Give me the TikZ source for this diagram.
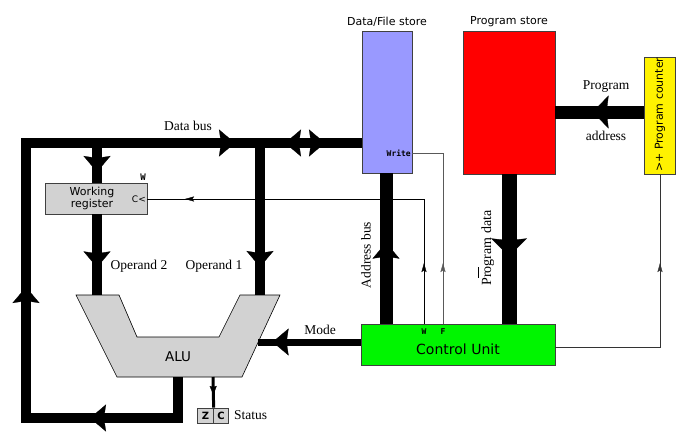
\documentclass[tikz,border=0pt]{standalone}
\usepackage{fontspec}
\setmainfont{Liberation Serif}
\setsansfont{DejaVu Sans}
\setmonofont{DejaVu Sans Mono}
\usetikzlibrary{arrows.meta,decorations.markings}
\definecolor{storeblue}{RGB}{153,153,255}
\definecolor{cugreen}{RGB}{0,245,0}
\definecolor{regfill}{RGB}{210,210,210}
\begin{document}
\begin{tikzpicture}[x=1pt,y=-1pt,
  box/.style={draw=black!75, line width=0.8pt, inner sep=0pt},
  bus/.style={line width=#1, draw=black},
  sig/.style={line width=0.7pt},
  lbl/.style={font=\fontsize{13.5}{15}\selectfont, inner sep=0pt},
  sflbl/.style={font=\sffamily\fontsize{11}{12.5}\selectfont, inner sep=0pt, align=center},
  mono/.style={font=\ttfamily\bfseries\fontsize{8}{9}\selectfont, inner sep=0pt},
  bt/.tip={Stealth[length=16pt 0, width=27pt 0, inset=2pt 0, line width=0.3pt 0]},
  pdt/.tip={Stealth[length=18pt 0, width=36pt 0, inset=2pt 0, line width=0.3pt 0]},
  pat/.tip={Stealth[length=16pt 0, width=33pt 0, inset=2pt 0, line width=0.3pt 0]},
  zt/.tip={Stealth[length=9pt 0, width=7pt 0, inset=1pt 0, line width=0.3pt 0]},
  st/.tip={Stealth[length=9pt 0, width=5pt 0, inset=1.5pt 0, line width=0.3pt 0]},
  tipat/.style n args={2}{postaction=decorate, decoration={markings, mark=at position #2 with {\arrow{#1}}}},
]
\useasboundingbox (0,0) rectangle (683,437);

% ---------- boxes ----------
\node[box, fill=storeblue, minimum width=50, minimum height=142] (ds) at (387,102) {};
\node[sflbl, anchor=south] (dsl) at (387,27) {Data/File store};
\node[box, fill=red, minimum width=92, minimum height=143] (ps) at (509,102.5) {};
\node[sflbl, anchor=south] (psl) at (509,27) {Program store};
\node[box, fill=yellow, minimum width=31, minimum height=117] (pc) at (659.5,115.5) {};
\node[sflbl, rotate=90, anchor=west] (pcl) at (660,172) {>+ Program counter};
\node[box, fill=cugreen, minimum width=194, minimum height=41] (cu) at (458,344.5) {};
\node[font=\sffamily\fontsize{14}{16}\selectfont, inner sep=0pt] (cul) at (458,349) {Control Unit};
\node[box, fill=regfill, minimum width=102, minimum height=31] (wr) at (96,198.5) {};
\node[sflbl] (wrl) at (92,198.5) {Working\\register};
\node[font=\sffamily\fontsize{9}{10}\selectfont, inner sep=0pt, anchor=east] (wrc) at (146,199) {C<};
\node[mono, font=\ttfamily\bfseries\fontsize{9}{10}\selectfont] (wrw) at (143,177) {W};
\node[mono, anchor=east] (dsw) at (411,153) {Write};
\node[mono] (cuw) at (424,332) {W};
\node[mono] (cuf) at (443,332) {F};

% ALU
\draw[fill=regfill, draw=black, line width=0.6pt] (76,295) -- (119,295) -- (137,337) -- (219,337) -- (240,295) -- (280,295) -- (242,377) -- (117,377) -- cycle;
\node[font=\sffamily\fontsize{13.5}{15}\selectfont, inner sep=0pt] (alu) at (178,357) {ALU};
\coordinate (aluIn2) at (97,295);
\coordinate (aluIn1) at (260,295);
\coordinate (aluOut) at (178,377);
\coordinate (aluSt) at (213,377);
\coordinate (aluMode) at (258,342);

% status flags
\node[box, fill=regfill, minimum width=15.5, minimum height=15, font=\sffamily\bfseries\fontsize{10}{10}\selectfont] (z) at (205.5,415.5) {Z};
\node[box, fill=regfill, minimum width=15.5, minimum height=15, font=\sffamily\bfseries\fontsize{10}{10}\selectfont] (c) at (221,415.5) {C};
\node[lbl, anchor=west] (stl) at (234,415) {Status};

% ---------- thin control signals ----------
\coordinate (wIn) at (424,324);
\coordinate (wUp) at (424,199);
\coordinate (fIn) at (443,324);
\coordinate (fUp) at (443,153);
\coordinate (pcOut) at (555,347);
\coordinate (pcCorner) at (660,347);
\draw[sig, postaction=decorate, decoration={markings,
   mark=at position 61pt with {\arrow{st}},
   mark=at position 364pt with {\arrow{st}}}]
   (wIn) -- (wUp) -- (wr.east |- wUp);
\draw[sig, draw=black!65, tipat={st}{61pt}] (fIn) -- (fUp) -- (ds.east |- fUp);
\draw[sig, draw=black!80, tipat={st}{189pt}] (pcOut) -- (pcCorner) -- (pc.south -| pcCorner);

% ---------- buses ----------
\coordinate (bl) at (178,418);
\coordinate (bll) at (26,418);
\coordinate (tl) at (26,143);
\coordinate (dsIn) at (362,143);
\draw[bus=10pt, postaction=decorate, decoration={markings,
   mark=at position 129pt with {\arrow{bt}},
   mark=at position 324pt with {\arrow{bt}},
   mark=at position 677pt with {\arrow{bt}},
   mark=at position 727pt with {\arrowreversed{bt}},
   mark=at position 767pt with {\arrow{bt}}}]
   (aluOut) -- (bl) -- (bll) -- (tl) -- (dsIn);
\coordinate (j2) at (97,143);
\coordinate (j1) at (260,143);
\draw[bus=10pt, tipat={bt}{29pt}] (j2) -- (wr.north -| j2);
\draw[bus=10pt, tipat={bt}{53pt}] (wr.south -| j2) -- (aluIn2);
\draw[bus=10pt, tipat={bt}{124pt}] (j1) -- (aluIn1);

\draw[bus=13pt, tipat={bt}{81pt}] (cu.north -| 386,0) -- (ds.south -| 386,0);
\draw[bus=15pt, tipat={pdt}{82pt}] (ps.south) -- (cu.north -| ps.south);
\draw[bus=13pt, tipat={pat}{51pt}] (pc.west |- 0,112) -- (ps.east |- 0,112);
\draw[bus=7pt, tipat={bt}{88pt}] (cu.west |- aluMode) -- (aluMode);
\draw[bus=3pt, tipat={zt}{18pt}] (aluSt) -- (z.north east);

% ---------- labels ----------
\node[lbl] (dbl) at (188,126) {Data bus};
\node[lbl] (op2) at (139,266) {Operand 2};
\node[lbl] (op1) at (214,266) {Operand 1};
\node[lbl] (model) at (320,330) {Mode};
\node[lbl] (pal1) at (606,87) {Program};
\node[lbl] (pal2) at (606,136) {address};
\node[lbl, rotate=90] (abl) at (366,255) {Address bus};
\node[lbl, rotate=90, font=\fontsize{14}{15}\selectfont] (pdl) at (486,248) {P\rlap{\rule[12.5pt]{11pt}{0.9pt}}rogram data};
\end{tikzpicture}
\end{document}
